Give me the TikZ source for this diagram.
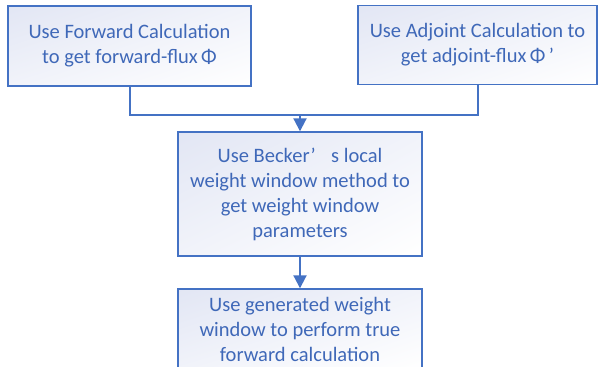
\documentclass[tikz,border=0pt]{standalone}
\usepackage{fontspec}
\setmainfont{Carlito}
\usetikzlibrary{arrows.meta,positioning,shadings}
\definecolor{bblue}{HTML}{4472C4}
\definecolor{txtblue}{HTML}{3F68B8}
\definecolor{lav}{HTML}{E2E6F4}
\definecolor{midlav}{HTML}{F1F3FA}
\tikzset{
  stepbox/.style={draw=bblue, line width=1.4pt, align=center, text=txtblue,
    font=\fontsize{20.5pt}{25pt}\selectfont, inner sep=0pt,
    upper left=lav, upper right=midlav, lower left=midlav, lower right=white},
  conn/.style={draw=bblue, line width=2pt},
  arr/.style={conn, -{Triangle[width=13pt,length=13pt]}}
}
\begin{document}
\begin{tikzpicture}[x=1pt,y=-1pt]
\useasboundingbox (0,0) rectangle (598,367);
\clip (0,0) rectangle (598,367);
\node[stepbox, minimum width=243pt, minimum height=80pt] (fwd) at (129.5,46)
  {Use Forward Calculation\\to get forward-flux\,Φ};
\node[stepbox, minimum width=239pt, minimum height=79pt] (adj) at (477.5,45)
  {Use Adjoint Calculation to\\get adjoint-flux\,Φ\,’};
\node[stepbox, minimum width=244pt, minimum height=124pt] (beck) at (300,194)
  {Use Becker’\hspace{0.75em}s local\\weight window method to\\get weight window\\parameters};
\node[stepbox, minimum width=244pt, minimum height=80pt] (gen) at (300,329)
  {Use generated weight\\window to perform true\\forward calculation};
\coordinate (j) at (300,115);
\draw[conn] (fwd.south) |- (j) -| (adj.south);
\draw[arr] (j) -- (beck.north);
\draw[arr] (beck.south) -- (gen.north);
\end{tikzpicture}
\end{document}
